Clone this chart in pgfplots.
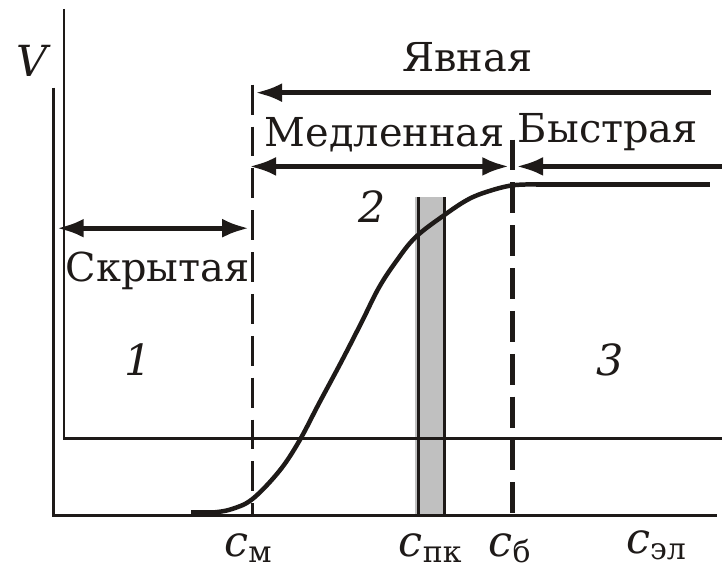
\documentclass[border=0pt]{standalone}
\usepackage{pgfplots}
\pgfplotsset{compat=1.18}
\usetikzlibrary{arrows.meta}
\usepackage{fontspec}
\setmainfont{DejaVu Serif}
\definecolor{ink}{RGB}{30,26,24}
\definecolor{bargray}{RGB}{192,192,192}
\newcommand{\lbl}{\fontsize{43}{52}\selectfont}
\newcommand{\wrd}{\fontsize{40}{48}\selectfont}
\newcommand{\subl}[1]{\raisebox{-6pt}{\fontsize{30}{36}\selectfont #1}}
\begin{document}
\begin{tikzpicture}
\begin{axis}[width=724pt,height=572pt,scale only axis,
  xmin=0,xmax=724,ymin=0,ymax=572,y dir=reverse,
  axis lines=none,clip=false]
\path (rel axis cs:0,0) rectangle (rel axis cs:1,1);
% gray bar
\addplot[fill=bargray,draw=none] coordinates {(416,198)(446,198)(446,517)(416,517)} -- cycle;
\addplot[ink,line width=2.5pt] coordinates {(420,198)(420,517)};
\addplot[ink,line width=2.5pt] coordinates {(446,198)(446,517)};
% outer axes
\addplot[ink,line width=2.8pt,line join=miter] coordinates {(54,88)(54,517)(719,517)};
% inner axes
\addplot[ink,line width=2.4pt,line join=miter] coordinates {(64,9)(64,440)(724,440)};
% dashed lines
\addplot[ink,line width=2.8pt,dash pattern=on 30pt off 12pt] coordinates {(253,85)(253,517)};
\addplot[ink,line width=5pt,dash pattern=on 31pt off 12pt] coordinates {(514,140)(514,517)};
% curve
\addplot[ink,line width=4.5pt] coordinates {(192,514)(218,514)};
\addplot[ink,line width=4.5pt,smooth,tension=0.6] coordinates {(216,514)(232,511)(253,501)(280,473)(300,443)(320,405)(343,362)(363,323)(380,289)(397,263)(417,238)(447,215)(470,200)(490,192)(514,186)(540,185)};
\addplot[ink,line width=4.5pt] coordinates {(538,185)(712,185)};
% arrows
\addplot[ink,line width=5pt,-{Latex[length=27pt,width=19pt]}] coordinates {(713,93)(256,93)};
\addplot[ink,line width=5pt,{Latex[length=27pt,width=19pt]}-{Latex[length=27pt,width=19pt]}] coordinates {(250,167)(511,167)};
\addplot[ink,line width=5pt,-{Latex[length=27pt,width=19pt]}] coordinates {(724,167)(518,167)};
\addplot[ink,line width=5pt,{Latex[length=27pt,width=19pt]}-{Latex[length=27pt,width=19pt]}] coordinates {(57,229)(250,229)};
% texts
\node[ink,anchor=base,inner sep=0] at (axis cs:469,72) {\wrd Явная};
\node[ink,anchor=base,inner sep=0] at (axis cs:386,147) {\wrd Медленная};
\node[ink,anchor=base,inner sep=0] at (axis cs:610,143) {\wrd Быстрая};
\node[ink,anchor=base,inner sep=0] at (axis cs:158,282) {\wrd Скрытая};
\node[ink,anchor=base,inner sep=0] at (axis cs:139,377) {\lbl\itshape 1};
\node[ink,anchor=base,inner sep=0] at (axis cs:373,223) {\lbl\itshape 2};
\node[ink,anchor=base,inner sep=0] at (axis cs:612,377) {\lbl\itshape 3};
\node[ink,anchor=base,inner sep=0] at (axis cs:32,77) {\lbl\itshape V};
\node[ink,anchor=base west,inner sep=0] at (axis cs:225,558) {\lbl\itshape c\upshape\subl{м}};
\node[ink,anchor=base west,inner sep=0] at (axis cs:400,558) {\lbl\itshape c\upshape\subl{пк}};
\node[ink,anchor=base west,inner sep=0] at (axis cs:490,558) {\lbl\itshape c\upshape\subl{б}};
\node[ink,anchor=base west,inner sep=0] at (axis cs:628,555) {\lbl\itshape c\upshape\subl{эл}};
\end{axis}
\end{tikzpicture}
\end{document}
